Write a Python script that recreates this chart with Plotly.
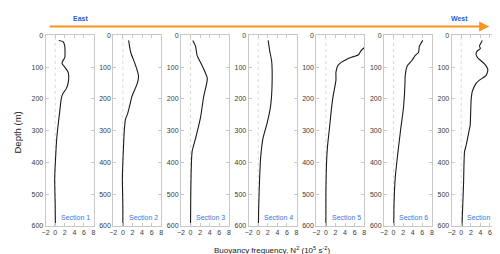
import plotly.graph_objects as go

sections = ["Section 1", "Section 2", "Section 3", "Section 4", "Section 5", "Section 6", "Section 7"]

depth_1 = [16, 20, 34, 70, 83, 90, 100, 116, 141, 167, 182, 197, 240, 284, 330, 397, 448, 500, 530, 600]
n2_1 = [0.75, 1.65, 2.0, 2.0, 1.5, 1.45, 2.0, 2.7, 2.8, 2.35, 1.65, 1.3, 0.95, 0.6, 0.3, 0.05, -0.1, -0.05, 0.0, 0.05]

depth_2 = [16, 54, 90, 126, 140, 156, 192, 223, 248, 264, 300, 346, 400, 448, 540, 600]
n2_2 = [1.2, 1.65, 2.55, 3.25, 3.2, 2.9, 1.9, 1.4, 0.96, 0.55, 0.3, 0.15, 0.0, -0.1, 0.0, 0.0]

depth_3 = [16, 34, 64, 95, 136, 192, 259, 325, 366, 428, 500, 600]
n2_3 = [0.48, 1.04, 1.38, 2.4, 3.5, 2.75, 2.08, 1.04, 0.33, 0.13, 0.05, 0.0]

depth_4 = [16, 49, 80, 151, 223, 274, 325, 386, 448, 540, 600]
n2_4 = [2.08, 2.4, 2.8, 2.9, 2.58, 1.9, 0.98, 0.5, 0.3, 0.1, 0.05]

depth_5 = [30, 39, 49, 61, 67, 75, 85, 95, 116, 141, 192, 233, 284, 356, 417, 500, 600]
n2_5 = [8.8, 8.0, 7.3, 6.8, 5.75, 4.4, 3.2, 2.5, 2.1, 2.1, 1.5, 1.15, 0.8, 0.3, 0.1, 0.0, 0.0]

depth_6 = [16, 34, 54, 64, 80, 95, 131, 143, 223, 294, 376, 448, 530, 600]
n2_6 = [6.1, 5.4, 5.2, 4.5, 3.8, 2.9, 2.4, 2.4, 2.1, 1.5, 0.85, 0.35, 0.1, 0.05]

depth_7 = [16, 34, 41, 51, 61, 71, 90, 108, 126, 141, 151, 177, 202, 284, 294, 346, 366, 468, 600]
n2_7 = [4.4, 3.8, 4.0, 3.25, 3.1, 3.45, 4.85, 5.55, 5.2, 3.8, 3.1, 2.3, 2.07, 1.86, 1.72, 1.03, 0.69, 0.48, 0.15]

depths = [depth_1, depth_2, depth_3, depth_4, depth_5, depth_6, depth_7]
n2s = [n2_1, n2_2, n2_3, n2_4, n2_5, n2_6, n2_7]

x_ticks = [-2, 0, 2, 4, 6, 8]
y_ticks = [0, 100, 200, 300, 400, 500, 600]

W, H = 500, 254
FONT = "Liberation Sans, Arial, Helvetica, sans-serif"
AXC = "#c8c8c8"
TXT = "#3a3a3a"

fig = go.Figure()
layout = dict(
    width=W, height=H, margin=dict(l=0, r=0, t=0, b=0),
    paper_bgcolor="white", plot_bgcolor="white", showlegend=False,
    font=dict(family=FONT, size=7, color=TXT),
)

top_px, bot_px = 24, 220
ydom = [(H - bot_px) / H, (H - top_px) / H]
shapes = []
annotations = []
for i in range(7):
    left = 34 + 68.5 * i
    right = left + 48.5
    sfx = "" if i == 0 else str(i + 1)
    xa, ya = "x" + sfx, "y" + sfx
    fig.add_trace(go.Scatter(x=n2s[i], y=depths[i], mode="lines",
                             line=dict(color="#1a1a1a", width=1.1, shape="spline", smoothing=0.6),
                             xaxis=xa, yaxis=ya, hoverinfo="skip"))
    common = dict(showline=True, linecolor=AXC, linewidth=1, mirror="ticks",
                  ticks="inside", ticklen=3, tickcolor=AXC, tickwidth=1,
                  showgrid=False, zeroline=False,
                  tickfont=dict(family=FONT, size=7, color=TXT))
    layout["xaxis" + sfx] = dict(domain=[left / W, right / W], range=[-2, 8],
                                 tickvals=x_ticks, anchor=ya, **common)
    layout["yaxis" + sfx] = dict(domain=ydom, range=[600, 0], tickvals=y_ticks,
                                 anchor=xa, **common)
    shapes.append(dict(type="line", xref=xa, yref=ya + " domain", x0=0, x1=0, y0=0, y1=1,
                       line=dict(color="#c8c8c8", width=0.7, dash="dot"), layer="below"))
    annotations.append(dict(text=sections[i], xref=xa + " domain", yref=ya + " domain",
                            x=0.97, y=0.015, xanchor="right", yanchor="bottom", showarrow=False,
                            font=dict(family=FONT, size=7, color="#3a74e0")))

annotations.append(dict(text="Depth (m)", x=6 / W, y=(H - 124) / H, xref="paper", yref="paper",
                        showarrow=False, textangle=-90, xanchor="center", yanchor="middle",
                        font=dict(family=FONT, size=9.5, color="#222")))
annotations.append(dict(x=483 / W, y=(H - 15) / H, xref="paper", yref="paper",
                        ax=-(483 - 41), ay=0, axref="pixel", ayref="pixel",
                        showarrow=True, arrowhead=2, arrowsize=1.0, arrowwidth=2,
                        arrowcolor="#f7941d", text=" "))
annotations.append(dict(text="<b>East</b>", x=69 / W, y=(H - 6.3) / H, xref="paper", yref="paper",
                        showarrow=False, xanchor="center", yanchor="middle",
                        font=dict(family=FONT, size=7, color="#1f5fd6")))
annotations.append(dict(text="<b>West</b>", x=453 / W, y=(H - 6.3) / H, xref="paper", yref="paper",
                        showarrow=False, xanchor="center", yanchor="middle",
                        font=dict(family=FONT, size=7, color="#1f5fd6")))
annotations.append(dict(text="Buoyancy frequency, N<sup>2</sup> (10<sup>5</sup> s<sup>-2</sup>)",
                        x=263 / W, y=(H - 245) / H, xref="paper", yref="paper",
                        showarrow=False, xanchor="center", yanchor="middle",
                        font=dict(family=FONT, size=8, color="#222")))

layout["shapes"] = shapes
layout["annotations"] = annotations
fig.update_layout(**layout)
fig.write_html("out.html")
